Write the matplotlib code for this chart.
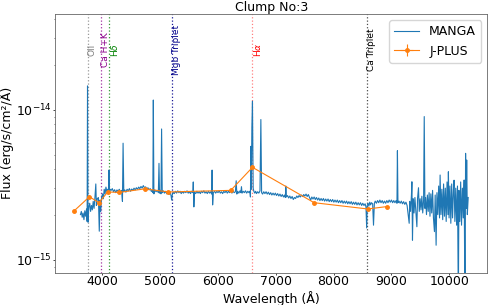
import numpy as np
import matplotlib
matplotlib.use('Agg')
import matplotlib.pyplot as plt

# MANGA spectrum, flux in units of 1e-15 erg/s/cm2/A
manga_wave = [3630, 3645, 3660, 3675, 3690, 3705, 3720, 3735, 3745, 3752, 3760, 3775, 3790, 3805, 3820, 3835,
              3850, 3865, 3880, 3895, 3905, 3920, 3940, 3955, 3968, 3980, 3995, 4010, 4025, 4040, 4055, 4070,
              4085, 4100, 4115, 4122, 4130, 4145,
              4160, 4180, 4200, 4220, 4240, 4260, 4280, 4300, 4320, 4340, 4355, 4366, 4378, 4395, 4415, 4435,
              4455, 4475, 4495, 4515, 4535, 4555, 4575, 4595, 4615, 4635, 4655, 4675, 4695, 4715, 4735, 4755,
              4775, 4795, 4815, 4835, 4855, 4870, 4880, 4888, 4898, 4915, 4935, 4955, 4975, 4986, 4995, 5010,
              5020, 5031, 5042, 5060, 5080, 5100, 5120, 5140, 5160, 5180, 5195, 5205, 5215, 5230,
              5250, 5270, 5290, 5310, 5330, 5350, 5370, 5390, 5410, 5430, 5450, 5470, 5490, 5510, 5530, 5550,
              5570, 5578, 5588, 5600, 5620, 5640, 5660, 5680, 5700, 5720, 5740, 5760, 5780, 5800, 5820, 5840,
              5860, 5880, 5895, 5903, 5912, 5925, 5945, 5965, 5985, 6005, 6025, 6045, 6065, 6085, 6105, 6125,
              6145, 6165, 6185, 6205, 6225, 6245, 6265, 6285, 6305, 6319, 6330, 6345, 6365, 6385, 6400, 6410,
              6420, 6440, 6460, 6480, 6500, 6520, 6540, 6555, 6565, 6572, 6580, 6590, 6600, 6612, 6625, 6640,
              6655, 6670, 6690, 6710, 6730, 6745, 6758, 6775, 6795,
              6815, 6835, 6855, 6875, 6895, 6915, 6935, 6955, 6975, 6995, 7015, 7035, 7055, 7075, 7095, 7115,
              7135, 7155, 7168, 7176, 7186, 7205, 7225, 7245, 7265, 7285, 7305, 7325, 7345, 7365, 7385, 7405,
              7425, 7445, 7465, 7485, 7505, 7525, 7545, 7565, 7585, 7605, 7625, 7645, 7665, 7685, 7705, 7725,
              7745, 7765, 7785, 7805, 7825, 7845, 7865, 7885, 7905, 7925, 7945, 7965, 7985, 8005, 8025, 8045,
              8065, 8085, 8105, 8125, 8145, 8165, 8185, 8205, 8225, 8245, 8265, 8285, 8305, 8325, 8345, 8365,
              8385, 8405, 8425, 8445, 8465, 8485, 8505, 8525, 8545, 8560, 8572, 8582, 8595, 8610, 8625, 8640,
              8655, 8675, 8690, 8705, 8720, 8740, 8760, 8780, 8800, 8820, 8840, 8860, 8880, 8900, 8920, 8940,
              8960, 8980, 9000, 9020, 9040, 9060, 9080, 9095, 9103, 9112, 9130, 9150, 9170, 9190, 9210, 9230,
              9250, 9270,
              9285, 9297, 9306, 9315, 9330, 9345, 9353, 9363, 9375, 9390, 9405, 9420, 9439, 9450, 9467, 9480,
              9495, 9510, 9525, 9540, 9555, 9566, 9578, 9590, 9605, 9620, 9635, 9650, 9665, 9680, 9695, 9710,
              9725, 9742, 9755, 9771, 9785, 9800, 9815, 9830, 9840, 9855, 9870, 9885, 9900, 9915, 9930, 9945,
              9960, 9975, 9983, 9995, 10010, 10025, 10040, 10055, 10070, 10081, 10095, 10110, 10125, 10140,
              10155, 10165, 10180, 10195, 10210, 10225, 10240, 10255, 10270, 10280, 10290, 10299, 10310, 10325]
manga_flux = [2.00, 2.10, 1.92, 2.05, 1.85, 2.12, 1.95, 2.18, 1.80, 14.4, 1.78, 2.25, 2.38, 2.10, 2.30, 2.15,
              2.45, 2.20, 2.60, 3.20, 2.30, 2.55, 2.60, 1.55, 2.50, 2.10, 2.60, 2.75, 2.55, 2.95, 2.75, 3.05,
              2.85, 2.95, 2.80, 3.96, 2.85, 2.95,
              2.90, 2.98, 2.84, 2.93, 2.80, 2.92, 2.86, 2.95, 2.82, 2.90, 2.45, 5.98, 2.85, 2.92, 2.82, 2.95,
              2.88, 2.98, 2.86, 2.96, 2.90, 3.00, 2.92, 3.02, 2.95, 3.05, 2.98, 3.08, 3.00, 3.12, 3.02, 3.06,
              2.95, 3.02, 2.92, 2.98, 2.85, 2.90, 2.80, 11.6, 2.75, 2.92, 2.84, 2.90, 2.80, 4.39, 2.78, 2.90,
              2.75, 7.44, 2.80, 2.88, 2.78, 2.86, 2.75, 2.84, 2.72, 2.82, 2.66, 2.50, 2.70, 2.82,
              2.76, 2.86, 2.78, 2.88, 2.80, 2.86, 2.76, 2.84, 2.78, 2.86, 2.80, 2.88, 2.78, 2.84, 2.76, 2.86,
              2.80, 3.30, 2.25, 2.82, 2.76, 2.86, 2.78, 2.84, 2.76, 2.86, 2.80, 2.88, 2.78, 2.84, 2.76, 2.86,
              2.78, 2.84, 2.74, 3.96, 2.32, 2.80, 2.86, 2.78, 2.86, 2.80, 2.88, 2.78, 2.84, 2.76, 2.86, 2.80,
              2.88, 2.78, 2.86, 2.80, 2.88, 2.78, 2.86, 2.80, 2.84, 3.36, 2.74, 2.86, 2.78, 2.88, 2.80, 3.07,
              2.78, 2.86, 2.80, 2.88, 2.78, 2.86, 2.80, 2.86, 2.62, 5.70, 2.95, 7.70, 11.4, 3.00, 2.85, 2.78,
              2.86, 2.76, 2.84, 2.78, 2.88, 8.60, 2.80, 2.74, 2.84,
              2.76, 2.84, 2.74, 2.82, 2.72, 2.80, 2.70, 2.78, 2.70, 2.78, 2.68, 2.76, 2.66, 2.74, 2.64, 2.72,
              2.62, 2.70, 2.60, 3.10, 2.62, 2.68, 2.58, 2.66, 2.56, 2.64, 2.52, 2.60, 2.56, 2.66, 2.60, 2.68,
              2.62, 2.70, 2.64, 2.72, 2.66, 2.74, 2.64, 2.72, 2.60, 2.50, 2.62, 2.54, 2.62, 2.52, 2.60, 2.50,
              2.58, 2.48, 2.56, 2.48, 2.56, 2.46, 2.54, 2.46, 2.54, 2.44, 2.52, 2.44, 2.52, 2.42, 2.50, 2.42,
              2.50, 2.40, 2.48, 2.40, 2.48, 2.38, 2.46, 2.38, 2.46, 2.36, 2.44, 2.36, 2.44, 2.34, 2.42, 2.34,
              2.42, 2.32, 2.40, 2.32, 2.40, 2.30, 2.38, 2.30, 2.36, 2.25, 1.63, 2.30, 2.38, 2.28, 2.42, 2.32,
              2.40, 2.36, 1.70, 2.38, 2.46, 2.38, 2.48, 2.40, 2.50, 2.40, 2.48, 2.38, 2.46, 2.38, 2.48, 2.40,
              2.50, 2.42, 2.50, 2.40, 2.48, 2.40, 2.48, 2.38, 5.33, 2.40, 2.46, 2.38, 2.46, 2.36, 2.44, 2.34,
              2.42, 2.30,
              2.05, 1.89, 1.75, 2.45, 2.10, 2.70, 3.31, 1.35, 2.55, 2.05, 2.60, 2.15, 1.66, 2.55, 3.02, 2.10,
              2.55, 2.15, 2.65, 2.05, 2.50, 9.00, 2.20, 2.60, 2.00, 2.70, 2.10, 2.80, 1.95, 2.75, 2.05, 2.90,
              1.90, 1.54, 2.70, 1.25, 2.80, 2.00, 3.10, 1.90, 3.67, 2.00, 2.95, 1.85, 3.20, 1.95, 3.00, 1.80,
              3.30, 2.00, 3.86, 1.90, 3.10, 1.75, 3.20, 1.90, 2.90, 3.39, 1.80, 3.00, 1.70, 3.10,
              0.50, 2.90, 1.80, 3.30, 1.70, 3.00, 1.90, 3.40, 0.40, 5.12, 2.20, 4.62, 2.00, 2.60]

# J-PLUS photometry (same units)
jplus_wave = [3522, 3785, 3950, 4100, 4300, 4745, 5150, 6225, 6600, 7665, 8590, 8915]
jplus_flux = [2.12, 2.63, 2.40, 2.83, 2.81, 2.97, 2.83, 2.90, 4.13, 2.40, 2.18, 2.26]
jplus_ferr = [0.03, 0.02, 0.03, 0.02, 0.02, 0.01, 0.02, 0.01, 0.02, 0.01, 0.03, 0.03]
jplus_werr = [10, 10, 10, 10, 10, 10, 10, 10, 10, 10, 10, 10]

# spectral lines
line_names = ['OII', 'Ca H+K', 'H$\\delta$', 'Mgb Triplet', 'H$\\alpha$', 'Ca Triplet']
line_wave = [3752, 3991, 4122, 5204, 6597, 8575]
line_colors = ['grey', 'darkmagenta', 'green', 'darkblue', 'red', 'black']
line_alpha = [0.8, 0.8, 0.8, 0.9, 0.5, 0.7]

manga_wave = np.array(manga_wave)
manga_flux = np.array(manga_flux) * 1e-15
jplus_flux = np.array(jplus_flux) * 1e-15
jplus_ferr = np.array(jplus_ferr) * 1e-15

fig = plt.figure(figsize=(4.9, 3.05), dpi=100)
ax = fig.add_axes([0.1122, 0.1059, 0.8823, 0.8481])

for name, w, c, a in zip(line_names, line_wave, line_colors, line_alpha):
    ax.axvline(w, color=c, ls=':', lw=0.9, alpha=a)
    ax.text(w, 2.5e-14, name, rotation=90, va='center', ha='left', color=c, fontsize=6.5)

ax.plot(manga_wave, manga_flux, color='C0', lw=0.8, label='MANGA')
ax.errorbar(jplus_wave, jplus_flux, yerr=jplus_ferr, xerr=jplus_werr, color='C1', marker='o',
            ms=2.5, lw=0.8, label='J-PLUS')

ax.set_yscale('log')
ax.set_xlim(3190, 10655)
ax.set_ylim(8.2e-16, 4.34e-14)
ax.set_xlabel('Wavelength (Å)', fontsize=9, labelpad=1.5)
ax.set_ylabel('Flux (erg/s/cm²/Å)', fontsize=9, labelpad=1.5)
ax.set_title('Clump No:3', fontsize=9, pad=1.5)
ax.tick_params(labelsize=9, length=1.5, width=0.5, pad=0.5)
ax.tick_params(which='minor', length=1, width=0.4)
for s in ax.spines.values():
    s.set_linewidth(0.6)
    s.set_color('0.4')
ax.legend(loc='upper right', fontsize=9)

fig.savefig('out.png', dpi=100)
